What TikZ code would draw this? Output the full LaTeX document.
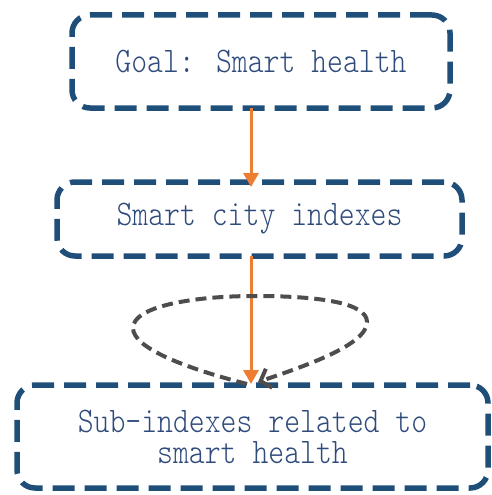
\documentclass[tikz,border=0pt]{standalone}
\usepackage{fontspec}
\usetikzlibrary{arrows.meta}
\newfontfamily\boxfont{Latin Modern Mono Light}[FakeStretch=0.84]
\definecolor{boxblue}{HTML}{1F4E79}
\definecolor{textblue}{HTML}{2F4B7C}
\definecolor{flow}{HTML}{ED7D31}
\definecolor{loopgray}{HTML}{4D4D4D}
\begin{document}
\begin{tikzpicture}[x=1pt,y=-1pt,
  stagebox/.style={draw=boxblue, line width=5.5pt, rounded corners=18pt,
    dash pattern=on 22pt off 10pt, text=textblue, align=center,
    font=\boxfont\fontsize{36}{31}\selectfont, inner sep=0pt},
  flowarrow/.style={draw=flow, line width=3pt,
    -{Triangle[length=14pt,width=15pt]}},
  feedback/.style={draw=loopgray, line width=4pt, dash pattern=on 11pt off 6pt,
    -{Straight Barb[length=9pt,width=20pt,line width=4pt]}}]
  \useasboundingbox (0,0) rectangle (491,495);
  \node[stagebox, minimum width=378pt, minimum height=93pt] (goal) at (261,61.5) {Goal: Smart health};
  \node[stagebox, minimum width=405pt, minimum height=74pt] (city) at (259.5,219) {Smart city indexes};
  \node[stagebox, minimum width=471pt, minimum height=103pt] (sub) at (252.5,436.5) {Sub-indexes related to\\smart health};
  \coordinate (loopstart) at (247,384);
  \coordinate (loopend) at (258,382);
  \draw[flowarrow] (251,108) -- (251,187);
  \draw[flowarrow] (251,256) -- (251,384);
  \draw[feedback] (loopstart) .. controls (185,368) and (133,348) .. (133,328)
    .. controls (133,306) and (195,296) .. (255,296)
    .. controls (320,296) and (367,303) .. (367,322)
    .. controls (367,345) and (305,366) .. (loopend);
\end{tikzpicture}
\end{document}
